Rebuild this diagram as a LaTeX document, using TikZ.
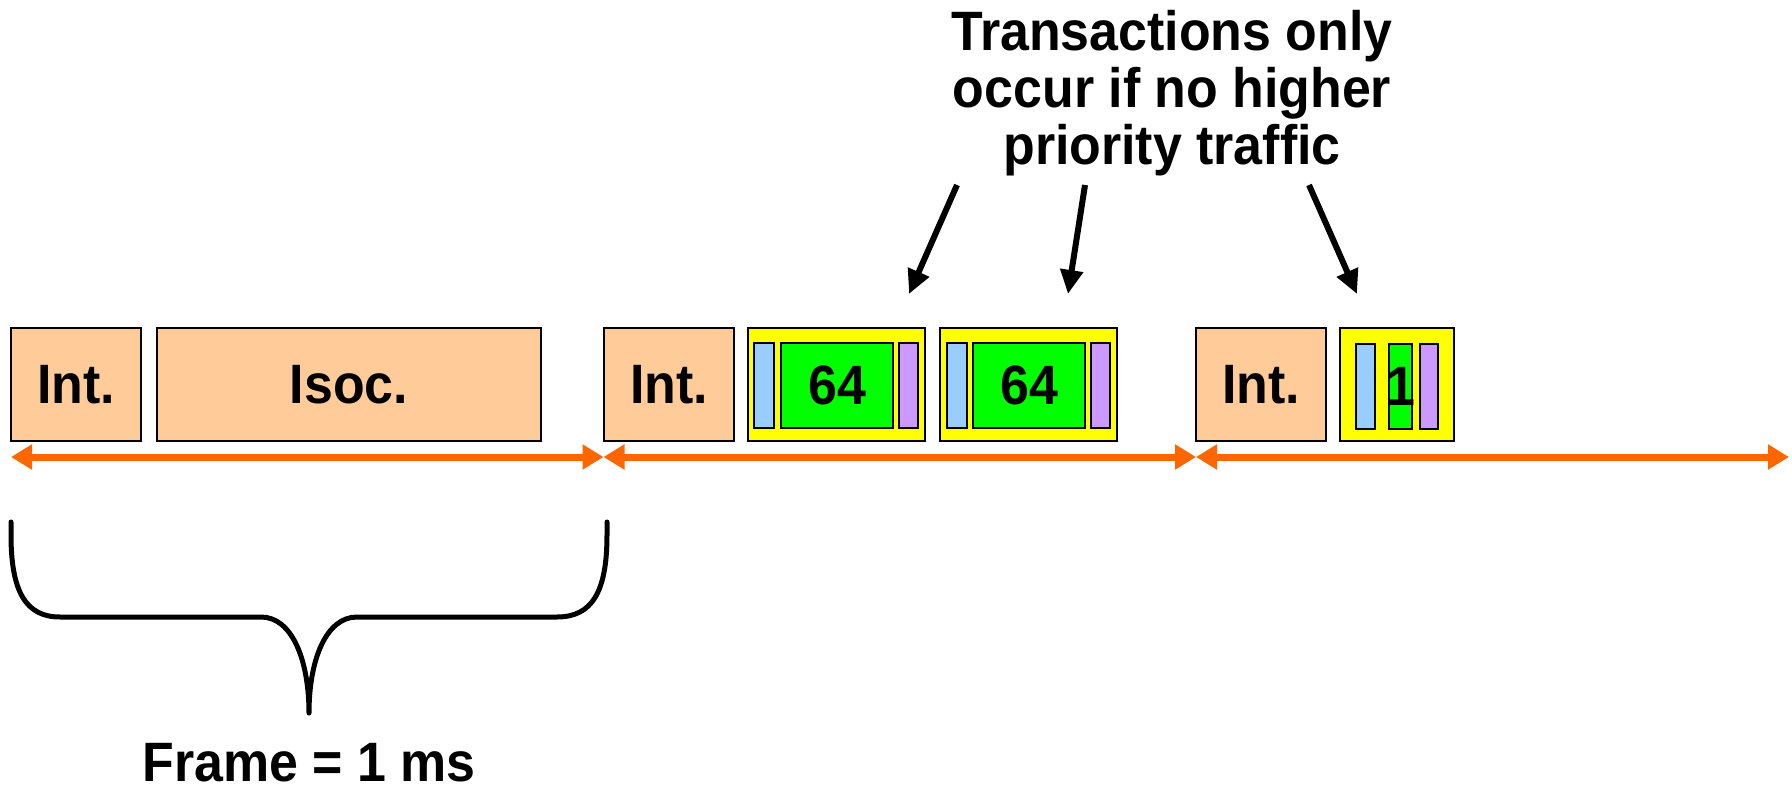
\documentclass[tikz,border=0pt]{standalone}
\usepackage{fontspec}
\setmainfont{Liberation Sans}
\newfontfamily\hvfont[FakeStretch=0.935]{Liberation Sans}
\usetikzlibrary{arrows.meta}
\definecolor{peach}{HTML}{FFCC99}
\definecolor{ylw}{HTML}{FFFF00}
\definecolor{grn}{HTML}{00FF00}
\definecolor{lblue}{HTML}{99CCFF}
\definecolor{lpurp}{HTML}{CC99FF}
\definecolor{orng}{HTML}{FF6600}
\begin{document}
\begin{tikzpicture}[x=1pt,y=-1pt,
  big/.style={font=\hvfont\fontsize{55.5}{57}\selectfont\bfseries},
  pbox/.style={draw=black, line width=2pt, fill=peach, inner sep=0pt, outer sep=0pt, minimum height=113pt, big},
  ybox/.style={draw=black, line width=2pt, fill=ylw, inner sep=0pt, outer sep=0pt, minimum height=113pt},
  bar/.style={draw=black, line width=2pt, inner sep=0pt, outer sep=0pt, minimum height=85pt, big},
  tl/.style={draw=orng, line width=7pt, {Triangle[length=21pt,width=24pt]}-{Triangle[length=21pt,width=24pt]}},
  pointer/.style={draw=black, line width=6pt, -{Triangle[length=24pt,width=22pt]}},
  brace/.style={draw=black, line width=5pt, line cap=round, line join=round}
]
\useasboundingbox (0,0) rectangle (1792,789);

% frame 1
\node[pbox, minimum width=130pt] (int1) at (76,384.5) {Int.};
\node[pbox, minimum width=384pt] (isoc) at (349,384.5) {Isoc.};
% frame 2
\node[pbox, minimum width=130pt] (int2) at (669,384.5) {Int.};
\node[ybox, minimum width=177pt] (y1) at (836.5,384.5) {};
\node[bar, fill=lblue, minimum width=20pt] (b1) at (764,385) {};
\node[bar, fill=grn, minimum width=112pt] (g1) at (837,385) {64};
\node[bar, fill=lpurp, minimum width=19pt] (p1) at (908.5,385) {};
\node[ybox, minimum width=177pt] (y2) at (1028.5,384.5) {};
\node[bar, fill=lblue, minimum width=20pt] (b2) at (956.5,385) {};
\node[bar, fill=grn, minimum width=112pt] (g2) at (1029,385) {64};
\node[bar, fill=lpurp, minimum width=19pt] (p2) at (1100,385) {};
% frame 3
\node[pbox, minimum width=130pt] (int3) at (1261,384.5) {Int.};
\node[ybox, minimum width=114pt] (y3) at (1397,384.5) {};
\node[bar, fill=lblue, minimum width=19pt] (b3) at (1365.5,386) {};
\node[bar, fill=grn, minimum width=23pt] (g3) at (1400.5,386) {};
\node[bar, fill=lpurp, minimum width=18pt] (p3) at (1429,386) {};
\node[big, inner sep=0pt] (one) at (g3.center) {1};

% timeline
\coordinate (t0) at (11,457);
\coordinate (t1) at (603.5,457);
\coordinate (t2) at (1196,457);
\coordinate (t3) at (1789,457);
\draw[tl] (t0) -- (t1);
\draw[tl] (t1) -- (t2);
\draw[tl] (t2) -- (t3);

% title and pointers
\node[big, align=center, anchor=north, inner sep=0pt] (title) at (1172,10.5)
  {Transactions only\\occur if no higher\\priority traffic};
\coordinate (a1s) at (957,185);  \coordinate (a1e) at (909,294);
\coordinate (a2s) at (1085,185); \coordinate (a2e) at (1068,294);
\coordinate (a3s) at (1309,185); \coordinate (a3e) at (1357,294);
\draw[pointer] (a1s) -- (a1e);
\draw[pointer] (a2s) -- (a2e);
\draw[pointer] (a3s) -- (a3e);

% brace
\coordinate (bl) at (11,522);
\coordinate (br) at (607,522);
\coordinate (btip) at (309,713);
\draw[brace] (bl) -- (11,535) .. controls (11,592) and (26,617) .. (60,617)
  -- (261,617) .. controls (292,617) and (309,660) .. (btip)
  .. controls (309,660) and (326,617) .. (357,617)
  -- (557,617) .. controls (592,617) and (607,592) .. (607,535) -- (br);
\node[big, anchor=base, inner sep=0pt] (frame) at (309,781) {Frame = 1 ms};
\end{tikzpicture}
\end{document}
